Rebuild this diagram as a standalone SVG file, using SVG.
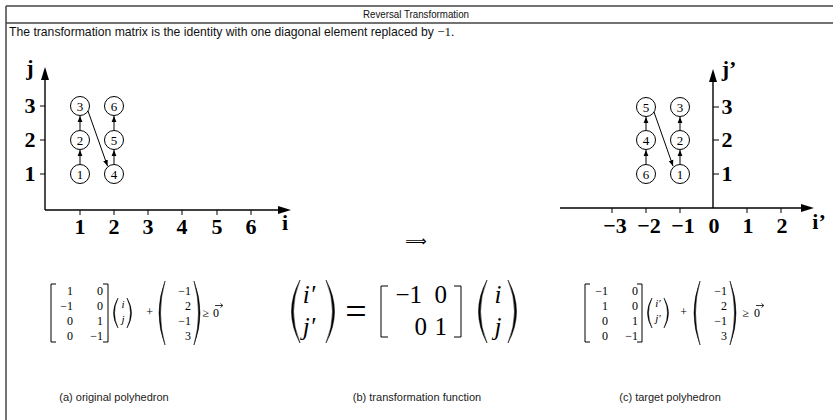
<svg xmlns="http://www.w3.org/2000/svg" width="833" height="420" viewBox="0 0 833 420">
<defs>
<marker id="ah" viewBox="0 0 10 10" refX="10" refY="5" markerWidth="6" markerHeight="6" orient="auto" markerUnits="userSpaceOnUse">
<path d="M0,1 L10,5 L0,9 Z" fill="#000"/>
</marker>
<style>
.frame{stroke:#444;stroke-width:1.5;fill:none}
.ax{stroke:#000;stroke-width:1.4;fill:none}
.tick{stroke:#000;stroke-width:1}
.axl{font-family:"Liberation Serif",serif;font-weight:bold;font-size:22px;fill:#000;text-anchor:middle}
.node circle{fill:#fff;stroke:#000;stroke-width:1}
.node text{font-family:"Liberation Serif",serif;font-size:13px;text-anchor:middle;fill:#000}
.edge{stroke:#000;stroke-width:1;fill:none;marker-end:url(#ah)}
.m{font-family:"Liberation Serif",serif;font-size:12px;fill:#000;text-anchor:end}
.mi{font-family:"Liberation Serif",serif;font-size:11px;font-style:italic;fill:#000;text-anchor:middle}
.big{font-family:"Liberation Serif",serif;font-size:25px;fill:#000;text-anchor:end}
.bigi{font-family:"Liberation Serif",serif;font-size:25px;font-style:italic;fill:#000;text-anchor:middle}
.br{stroke:#000;stroke-width:1;fill:none}
.par{fill:#000;stroke:#000;stroke-width:0.5}
.cap{font-family:"Liberation Sans",sans-serif;font-size:11px;fill:#222;text-anchor:middle}
.hd{font-family:"Liberation Sans",sans-serif;fill:#111}
</style>
</defs>

<g id="frame">
<line class="frame" x1="6" y1="6" x2="833" y2="6"/>
<line class="frame" x1="6" y1="23" x2="833" y2="23"/>
<line class="frame" x1="6" y1="6" x2="6" y2="420"/>
<text class="hd" x="416" y="18" font-size="11" text-anchor="middle" textLength="106" lengthAdjust="spacingAndGlyphs">Reversal Transformation</text>
<text class="hd" x="9" y="36" font-size="12.2">The transformation matrix is the identity with one diagonal element replaced by <tspan font-family="Liberation Serif, serif" font-size="13">−1.</tspan></text>
</g>

<g id="left-axes">
<line class="ax" x1="45" y1="210" x2="45" y2="78"/>
<polygon points="45,67 41,80 49,80" fill="#000"/>
<line class="ax" x1="45" y1="210" x2="280" y2="210"/>
<polygon points="291,210 278,206 278,214" fill="#000"/>
<line class="tick" x1="40" y1="106" x2="45" y2="106"/>
<line class="tick" x1="40" y1="140" x2="45" y2="140"/>
<line class="tick" x1="40" y1="174" x2="45" y2="174"/>
<line class="tick" x1="80" y1="210" x2="80" y2="215"/>
<line class="tick" x1="114" y1="210" x2="114" y2="215"/>
<line class="tick" x1="148" y1="210" x2="148" y2="215"/>
<line class="tick" x1="182" y1="210" x2="182" y2="215"/>
<line class="tick" x1="217" y1="210" x2="217" y2="215"/>
<line class="tick" x1="251" y1="210" x2="251" y2="215"/>
<text class="axl" x="30" y="75">j</text>
<text class="axl" x="30" y="113">3</text>
<text class="axl" x="30" y="147">2</text>
<text class="axl" x="30" y="181">1</text>
<text class="axl" x="80" y="234">1</text>
<text class="axl" x="114" y="234">2</text>
<text class="axl" x="148" y="234">3</text>
<text class="axl" x="182" y="234">4</text>
<text class="axl" x="217" y="234">5</text>
<text class="axl" x="251" y="234">6</text>
<text class="axl" x="285" y="230">i</text>
</g>

<g id="left-connectors">
<line class="edge" x1="80" y1="164" x2="80" y2="150"/>
<line class="edge" x1="80" y1="130" x2="80" y2="116"/>
<line class="edge" x1="114" y1="164" x2="114" y2="150"/>
<line class="edge" x1="114" y1="130" x2="114" y2="116"/>
<line class="edge" x1="88" y1="111" x2="107.5" y2="166"/>
</g>

<g id="L1" class="node"><circle cx="80" cy="174" r="9.5"/><text x="80" y="178.5">1</text></g>
<g id="L2" class="node"><circle cx="80" cy="140" r="9.5"/><text x="80" y="144.5">2</text></g>
<g id="L3" class="node"><circle cx="80" cy="106" r="9.5"/><text x="80" y="110.5">3</text></g>
<g id="L4" class="node"><circle cx="114" cy="174" r="9.5"/><text x="114" y="178.5">4</text></g>
<g id="L5" class="node"><circle cx="114" cy="140" r="9.5"/><text x="114" y="144.5">5</text></g>
<g id="L6" class="node"><circle cx="114" cy="106" r="9.5"/><text x="114" y="110.5">6</text></g>

<g id="right-axes">
<line class="ax" x1="713" y1="208" x2="713" y2="80"/>
<polygon points="713,69 709,82 717,82" fill="#000"/>
<line class="ax" x1="560" y1="208" x2="803" y2="208"/>
<polygon points="814,208 801,204 801,212" fill="#000"/>
<line class="tick" x1="713" y1="107" x2="719" y2="107"/>
<line class="tick" x1="713" y1="140" x2="719" y2="140"/>
<line class="tick" x1="713" y1="174" x2="719" y2="174"/>
<line class="tick" x1="612" y1="208" x2="612" y2="213"/>
<line class="tick" x1="646" y1="208" x2="646" y2="213"/>
<line class="tick" x1="680" y1="208" x2="680" y2="213"/>
<line class="tick" x1="747" y1="208" x2="747" y2="213"/>
<line class="tick" x1="781" y1="208" x2="781" y2="213"/>
<text class="axl" x="729" y="76">j’</text>
<text class="axl" x="727" y="114">3</text>
<text class="axl" x="727" y="147">2</text>
<text class="axl" x="727" y="181">1</text>
<text class="axl" x="615" y="233">−3</text>
<text class="axl" x="649" y="233">−2</text>
<text class="axl" x="683" y="233">−1</text>
<text class="axl" x="714" y="233">0</text>
<text class="axl" x="748" y="233">1</text>
<text class="axl" x="782" y="233">2</text>
<text class="axl" x="819" y="229">i’</text>
</g>

<g id="right-connectors">
<line class="edge" x1="646" y1="164" x2="646" y2="150"/>
<line class="edge" x1="646" y1="130" x2="646" y2="117"/>
<line class="edge" x1="680" y1="164" x2="680" y2="150"/>
<line class="edge" x1="680" y1="130" x2="680" y2="117"/>
<line class="edge" x1="654" y1="112" x2="673" y2="166"/>
</g>

<g id="R6" class="node"><circle cx="646" cy="174" r="9.5"/><text x="646" y="178.5">6</text></g>
<g id="R4" class="node"><circle cx="646" cy="140" r="9.5"/><text x="646" y="144.5">4</text></g>
<g id="R5" class="node"><circle cx="646" cy="107" r="9.5"/><text x="646" y="111.5">5</text></g>
<g id="R1" class="node"><circle cx="680" cy="174" r="9.5"/><text x="680" y="178.5">1</text></g>
<g id="R2" class="node"><circle cx="680" cy="140" r="9.5"/><text x="680" y="144.5">2</text></g>
<g id="R3" class="node"><circle cx="680" cy="107" r="9.5"/><text x="680" y="111.5">3</text></g>

<g id="implies">
<text x="416" y="246" font-family="DejaVu Sans, sans-serif" font-size="15" text-anchor="middle" fill="#000">⟹</text>
</g>

<g id="formula-a">
<path class="br" d="M56,284 H51 V342 H56"/>
<text class="m" x="73" y="295">1</text>
<text class="m" x="73" y="310">−1</text>
<text class="m" x="73" y="325">0</text>
<text class="m" x="73" y="340">0</text>
<text class="m" x="103" y="295">0</text>
<text class="m" x="103" y="310">0</text>
<text class="m" x="103" y="325">1</text>
<text class="m" x="103" y="340">−1</text>
<path class="br" d="M103,284 H108 V342 H103"/>
<path class="par" d="M118,298 Q109,313 118,328 Q111,313 118,298 Z"/>
<text class="mi" x="123" y="308">i</text>
<text class="mi" x="123" y="323">j</text>
<path class="par" d="M127,298 Q136,313 127,328 Q134,313 127,298 Z"/>
<text class="m" x="153" y="316" text-anchor="middle">+</text>
<path class="par" d="M165,281 Q153,313 165,345 Q156,313 165,281 Z"/>
<text class="m" x="191" y="295">−1</text>
<text class="m" x="191" y="310">2</text>
<text class="m" x="191" y="325">−1</text>
<text class="m" x="191" y="340">3</text>
<path class="par" d="M194,281 Q206,313 194,345 Q203,313 194,281 Z"/>
<text class="m" x="209" y="317" text-anchor="middle">≥</text>
<text class="m" x="219" y="317" text-anchor="middle">0</text>
<path d="M215,305.5 H222.5 M220.5,303.5 L222.8,305.5 L220.5,307.5" stroke="#000" stroke-width="0.8" fill="none"/>
</g>

<g id="formula-b">
<path class="par" d="M300,280 Q283,311.5 300,343 Q287,311.5 300,280 Z"/>
<text class="bigi" x="309" y="303">i′</text>
<text class="bigi" x="309" y="335">j′</text>
<path class="par" d="M326,280 Q343,311.5 326,343 Q339,311.5 326,280 Z"/>
<text x="356" y="324" font-family="Liberation Serif, serif" font-size="38" text-anchor="middle" fill="#000">=</text>
<path class="br" d="M388,286 H381 V337 H388" stroke-width="1.3"/>
<text class="big" x="422" y="303">−1</text>
<text class="big" x="447" y="303">0</text>
<text class="big" x="427" y="335">0</text>
<text class="big" x="447" y="335">1</text>
<path class="br" d="M454,286 H461 V337 H454" stroke-width="1.3"/>
<path class="par" d="M487,280 Q470,311.5 487,343 Q474,311.5 487,280 Z"/>
<text class="bigi" x="498" y="303">i</text>
<text class="bigi" x="498" y="335">j</text>
<path class="par" d="M508,280 Q525,311.5 508,343 Q521,311.5 508,280 Z"/>
</g>

<g id="formula-c">
<path class="br" d="M590,284 H585 V342 H590"/>
<text class="m" x="608" y="295">−1</text>
<text class="m" x="608" y="310">1</text>
<text class="m" x="608" y="325">0</text>
<text class="m" x="608" y="340">0</text>
<text class="m" x="638" y="295">0</text>
<text class="m" x="638" y="310">0</text>
<text class="m" x="638" y="325">1</text>
<text class="m" x="638" y="340">−1</text>
<path class="br" d="M637,284 H642 V342 H637"/>
<path class="par" d="M652,298 Q643,313 652,328 Q645,313 652,298 Z"/>
<text class="mi" x="658" y="307" font-size="10">i′</text>
<text class="mi" x="658" y="322" font-size="10">j′</text>
<path class="par" d="M664,298 Q673,313 664,328 Q671,313 664,298 Z"/>
<text class="m" x="687" y="316" text-anchor="middle">+</text>
<path class="par" d="M700,281 Q688,313 700,345 Q691,313 700,281 Z"/>
<text class="m" x="727" y="295">−1</text>
<text class="m" x="727" y="310">2</text>
<text class="m" x="727" y="325">−1</text>
<text class="m" x="727" y="340">3</text>
<path class="par" d="M730,281 Q742,313 730,345 Q739,313 730,281 Z"/>
<text class="m" x="749" y="317" text-anchor="middle">≥</text>
<text class="m" x="760" y="317" text-anchor="middle">0</text>
<path d="M756,305.5 H763.5 M761.5,303.5 L763.8,305.5 L761.5,307.5" stroke="#000" stroke-width="0.8" fill="none"/>
</g>

<g id="captions">
<text class="cap" x="114" y="401">(a) original polyhedron</text>
<text class="cap" x="417" y="401">(b) transformation function</text>
<text class="cap" x="670" y="401">(c) target polyhedron</text>
</g>
</svg>
